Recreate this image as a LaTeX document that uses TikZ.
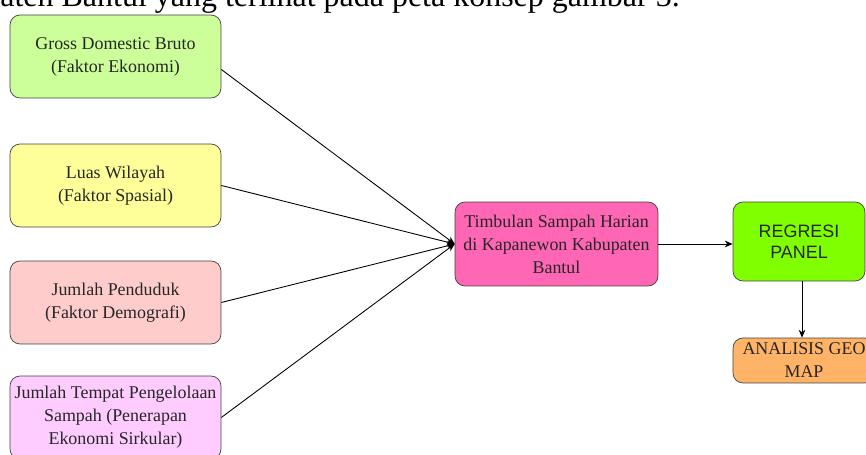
\documentclass[tikz,border=0pt]{standalone}
\usepackage{fontspec}
\setmainfont{Liberation Serif}
\newfontfamily\arialfont{Liberation Sans}
\usepackage{tikz}
\usetikzlibrary{arrows.meta}
\definecolor{gdbgreen}{HTML}{CCFF99}
\definecolor{luasyellow}{HTML}{FFFF99}
\definecolor{pendudukpink}{HTML}{FFCCCC}
\definecolor{tempatlilac}{HTML}{FFCCFF}
\definecolor{timbulanpink}{HTML}{FF66B3}
\definecolor{regresigreen}{HTML}{80FF00}
\definecolor{geoorange}{HTML}{FFB366}
\tikzset{
	box/.style={draw=black!75, rounded corners=0.2cm, align=center, inner sep=0pt, text=black!85,
		font=\fontsize{10.2}{13.1}\selectfont},
	factor/.style={box, minimum width=4.22cm, minimum height=1.66cm},
	link/.style={draw=black, line width=0.5pt, -{Stealth[length=4.5pt,width=3.8pt]}}
}

\begin{document}
\begin{tikzpicture}[x=0.02cm,y=-0.02cm]
	\useasboundingbox (0,0) rectangle (866,455);
	\clip (0,0) rectangle (866,455);

	\node[anchor=base east, inner sep=0pt, font=\fontsize{18.2}{22}\selectfont] (intro) at (680,6.5)
		{Kabupaten Bantul yang terlihat pada peta konsep gambar 3.};

	\node[factor, fill=gdbgreen] (gdb) at (115.5,56.5) {Gross Domestic Bruto\\(Faktor Ekonomi)};
	\node[factor, fill=luasyellow] (luas) at (115.5,185.5) {Luas Wilayah\\(Faktor Spasial)};
	\node[factor, fill=pendudukpink] (penduduk) at (115.5,302.5) {Jumlah Penduduk\\(Faktor Demografi)};
	\node[factor, fill=tempatlilac] (tempat) at (115.5,417.5) {Jumlah Tempat Pengelolaan\\Sampah (Penerapan\\Ekonomi Sirkular)};

	\node[box, fill=timbulanpink, minimum width=4.06cm, minimum height=1.68cm] (timbulan) at (556.5,244)
		{Timbulan Sampah Harian\\di Kapanewon Kabupaten\\Bantul};
	\node[box, fill=regresigreen, minimum width=2.64cm, minimum height=1.58cm,
		font=\arialfont\fontsize{10.2}{12}\selectfont] (regresi) at (799,241.5) {REGRESI\\PANEL};
	\node[box, fill=geoorange, minimum width=2.84cm, minimum height=0.9cm] (geomap) at (804,360.5)
		{ANALISIS GEO\\MAP};

	\draw[link] (gdb.-7) -- (timbulan.west);
	\draw[link] (luas.east) -- (timbulan.west);
	\draw[link] (penduduk.east) -- (timbulan.west);
	\draw[link] (tempat.east) -- (timbulan.west);
	\draw[link] (timbulan.east) -- (timbulan.east -| regresi.west);
	\draw[link] ([xshift=0.06cm]regresi.south) -- ([xshift=0.06cm]regresi.south |- geomap.north);
\end{tikzpicture}
\end{document}
